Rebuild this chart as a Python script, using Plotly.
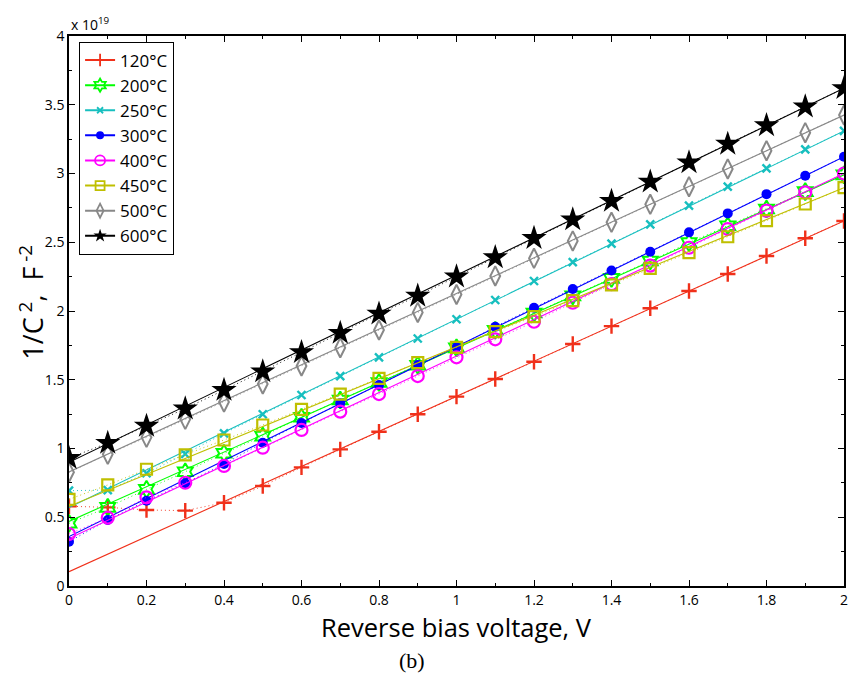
import plotly.graph_objects as go

# Reverse bias voltage (V)
voltage = [0.0, 0.1, 0.2, 0.3, 0.4, 0.5, 0.6, 0.7, 0.8, 0.9, 1.0,
           1.1, 1.2, 1.3, 1.4, 1.5, 1.6, 1.7, 1.8, 1.9, 2.0]

# 1/C^2 in units of 1e19 F^-2, one list per annealing temperature
c_120 = [0.580, 0.572, 0.553, 0.548, 0.606, 0.727, 0.863, 0.994, 1.122, 1.249, 1.377,
         1.505, 1.631, 1.760, 1.890, 2.020, 2.145, 2.269, 2.400, 2.529, 2.655]
c_200 = [0.456, 0.572, 0.703, 0.831, 0.965, 1.090, 1.227, 1.353, 1.480, 1.606, 1.732,
         1.860, 1.985, 2.110, 2.237, 2.364, 2.497, 2.620, 2.742, 2.868, 2.990]
c_250 = [0.693, 0.698, 0.820, 0.960, 1.110, 1.249, 1.389, 1.527, 1.663, 1.800, 1.940,
         2.080, 2.218, 2.355, 2.490, 2.630, 2.766, 2.904, 3.038, 3.176, 3.310]
c_300 = [0.322, 0.480, 0.620, 0.747, 0.887, 1.042, 1.186, 1.329, 1.462, 1.607, 1.736,
         1.886, 2.024, 2.160, 2.295, 2.431, 2.572, 2.710, 2.850, 2.984, 3.122]
c_400 = [0.378, 0.497, 0.645, 0.751, 0.873, 1.006, 1.135, 1.268, 1.396, 1.527, 1.663,
         1.794, 1.922, 2.060, 2.195, 2.330, 2.460, 2.596, 2.730, 2.863, 3.000]
c_450 = [0.630, 0.735, 0.849, 0.953, 1.062, 1.171, 1.285, 1.396, 1.510, 1.624, 1.736,
         1.850, 1.959, 2.075, 2.190, 2.310, 2.424, 2.540, 2.657, 2.778, 2.897]
c_500 = [0.827, 0.958, 1.081, 1.212, 1.338, 1.469, 1.600, 1.733, 1.862, 1.990, 2.120,
         2.255, 2.383, 2.510, 2.645, 2.776, 2.904, 3.033, 3.166, 3.297, 3.425]
c_600 = [0.930, 1.040, 1.164, 1.290, 1.425, 1.560, 1.700, 1.840, 1.980, 2.110, 2.250,
         2.390, 2.530, 2.665, 2.800, 2.940, 3.080, 3.215, 3.350, 3.486, 3.620]

labels = ["120°C", "200°C", "250°C", "300°C", "400°C", "450°C", "500°C", "600°C"]

# Linear fits (value at 0 V and at 2 V, units of 1e19)
fit_at_0 = [0.104, 0.470, 0.570, 0.360, 0.345, 0.580, 0.830, 0.900]
fit_at_2 = [2.655, 2.990, 3.310, 3.122, 3.000, 2.897, 3.425, 3.620]

series = [c_120, c_200, c_250, c_300, c_400, c_450, c_500, c_600]

styles = [
    dict(color="#f0301a", symbol="cross-thin", size=11, lw=2.4),
    dict(color="#00ff00", symbol="hexagram-open", size=13, lw=2.0),
    dict(color="#17bfbf", symbol="x-thin", size=8, lw=2.4),
    dict(color="#0000ff", symbol="circle", size=10, lw=0),
    dict(color="#ff00ff", symbol="circle-open", size=12, lw=2.2),
    dict(color="#bfbf00", symbol="square-open", size=11, lw=2.2),
    dict(color="#888888", symbol="diamond-tall-open", size=14, lw=2.0),
    dict(color="#000000", symbol="star", size=19, lw=0),
]

fig = go.Figure()

for vals, lab, f0, f2, st in zip(series, labels, fit_at_0, fit_at_2, styles):
    marker = dict(symbol=st["symbol"], size=st["size"], color=st["color"],
                  line=dict(width=st["lw"], color=st["color"]))
    # fitted straight line
    fig.add_trace(go.Scatter(x=[voltage[0], voltage[-1]], y=[f0, f2], mode="lines",
                             line=dict(color=st["color"], width=1.1),
                             showlegend=False, hoverinfo="skip"))
    # measured points joined by a dotted line
    fig.add_trace(go.Scatter(x=voltage, y=vals, mode="lines+markers",
                             line=dict(color=st["color"], width=0.9, dash="1px,3px"),
                             marker=marker, name=lab, showlegend=False))
    # legend entry: solid line with marker
    fig.add_trace(go.Scatter(x=[None], y=[None], mode="lines+markers",
                             line=dict(color=st["color"], width=2),
                             marker=dict(symbol=st["symbol"], size=min(st["size"], 12) - 2,
                                         color=st["color"],
                                         line=dict(width=min(st["lw"], 1.8), color=st["color"])),
                             name=lab, showlegend=True))

font_main = "Open Sans, Lato, sans-serif"

axis_common = dict(
    showline=True, linecolor="black", linewidth=1.5, mirror="ticks",
    ticks="inside", ticklen=6, tickwidth=1, tickcolor="black",
    showgrid=False, zeroline=False,
    tickfont=dict(family=font_main, size=14, color="black"),
)

fig.update_xaxes(range=[0, 2], dtick=0.2, tick0=0,
                 minor=dict(dtick=0.1, ticks="inside", ticklen=3.5, tickcolor="black", showgrid=False),
                 **axis_common)
fig.update_yaxes(range=[0, 4], dtick=0.5, tick0=0,
                 minor=dict(dtick=0.25, ticks="inside", ticklen=3.5, tickcolor="black", showgrid=False),
                 **axis_common)

# axis titles
fig.add_annotation(text="Reverse bias voltage, V", xref="paper", yref="paper",
                   x=(458 - 69.5) / 778, y=-(609 - 586) / 550, xanchor="center", yanchor="top",
                   borderpad=0, showarrow=False,
                   font=dict(family=font_main, size=25.5, color="black"))
fig.add_annotation(text="1/C<sup> 2</sup>,  F<sup> -2</sup>", xref="paper", yref="paper",
                   x=-(69.5 - 31) / 778, y=(586 - 302) / 550, xanchor="center", yanchor="middle",
                   textangle=-90, showarrow=False,
                   font=dict(family=font_main, size=27, color="black"))

fig.add_annotation(text="x 10<sup>19</sup>", xref="paper", yref="paper",
                   x=0.0, y=1.0, xanchor="left", yanchor="bottom", showarrow=False,
                   font=dict(family=font_main, size=14, color="black"))
fig.add_annotation(text="(b)", xref="paper", yref="paper",
                   x=(414 - 69.5) / 778, y=-(660 - 586) / 550, xanchor="center", yanchor="middle",
                   showarrow=False, font=dict(family="Liberation Serif, serif", size=22, color="black"))

fig.update_layout(
    width=851, height=675,
    margin=dict(l=69, r=3, t=36, b=89),
    paper_bgcolor="white", plot_bgcolor="white",
    legend=dict(x=0.013, y=0.99, xanchor="left", yanchor="top",
                bgcolor="white", bordercolor="black", borderwidth=1,
                font=dict(family=font_main, size=17, color="black"),
                itemwidth=30, tracegroupgap=0),
)

fig.write_html("out.html")
